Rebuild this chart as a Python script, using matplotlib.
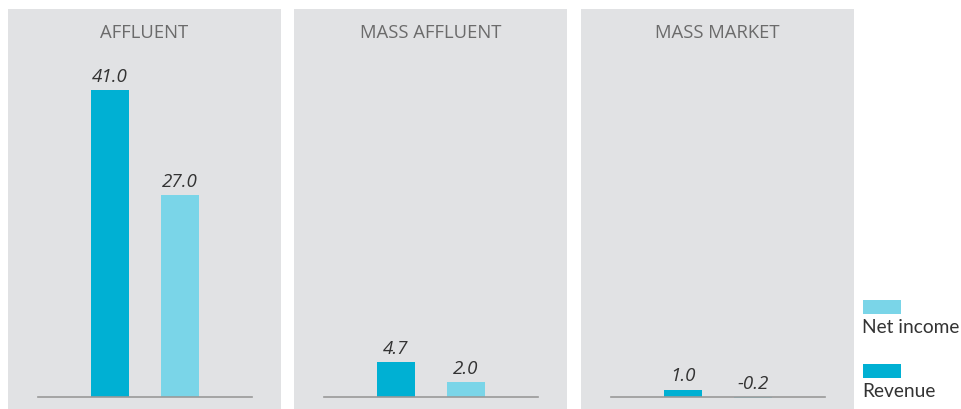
import matplotlib
matplotlib.use("Agg")
import matplotlib.pyplot as plt
from matplotlib.patches import Rectangle

segments = ["AFFLUENT", "MASS AFFLUENT", "MASS MARKET"]
series = ["Revenue", "Net income"]
revenue = [41.0, 4.7, 1.0]
net_income = [27.0, 2.0, -0.2]

c_rev = "#00B0D3"
c_net = "#7AD5E8"
bg = "#E1E2E4"

W, H = 962, 410
fig = plt.figure(figsize=(W / 100, H / 100), dpi=100)

panel_left = [8, 294, 581]
panel_w = 273
panel_top = 10
px_per_unit = 70.0
ppu_y = 7.49
base_px = 12  # baseline above axes bottom

for i, seg in enumerate(segments):
    ax = fig.add_axes([panel_left[i] / W, 0, panel_w / W, (H - panel_top) / H])
    ax.set_facecolor(bg)
    for s in ax.spines.values():
        s.set_visible(False)
    ax.set_xticks([])
    ax.set_yticks([])
    ax.set_xlim(-102 / px_per_unit, 1 + (panel_w - 172) / px_per_unit)
    ax.set_ylim(-base_px / ppu_y, (H - panel_top - base_px) / ppu_y)
    vals = [revenue[i], net_income[i]]
    ax.bar([0, 1], vals, width=38 / px_per_unit, color=[c_rev, c_net], zorder=2)
    ax.plot([-72 / px_per_unit, 1 + 72 / px_per_unit], [0, 0], color="#999999", lw=1.2, zorder=3)
    for x, v in zip([0, 1], vals):
        ax.annotate(f"{v:.1f}", (x, max(v, 0)), xytext=(0, 6.5), textcoords="offset points",
                    ha="center", va="baseline", fontsize=13.5, style="italic",
                    color="#333333", family="Open Sans")
    ax.text(0.5, 1 - 28 / (H - panel_top), seg, transform=ax.transAxes, ha="center",
            va="baseline", fontsize=13.3, color="#6B6B6B", family="Open Sans")

# legend
legend_items = [("Net income", c_net, 301), ("Revenue", c_rev, 365)]
for label, col, ytop in legend_items:
    fig.patches.append(Rectangle((863 / W, 1 - (ytop + 14) / H), 38 / W, 14 / H,
                                 transform=fig.transFigure, facecolor=col, edgecolor="none"))
    fig.text(862 / W, 1 - (ytop + 32) / H, label, ha="left", va="baseline",
             fontsize=13.8, color="#333333", family="Lato")

fig.savefig("out.png", dpi=100)
